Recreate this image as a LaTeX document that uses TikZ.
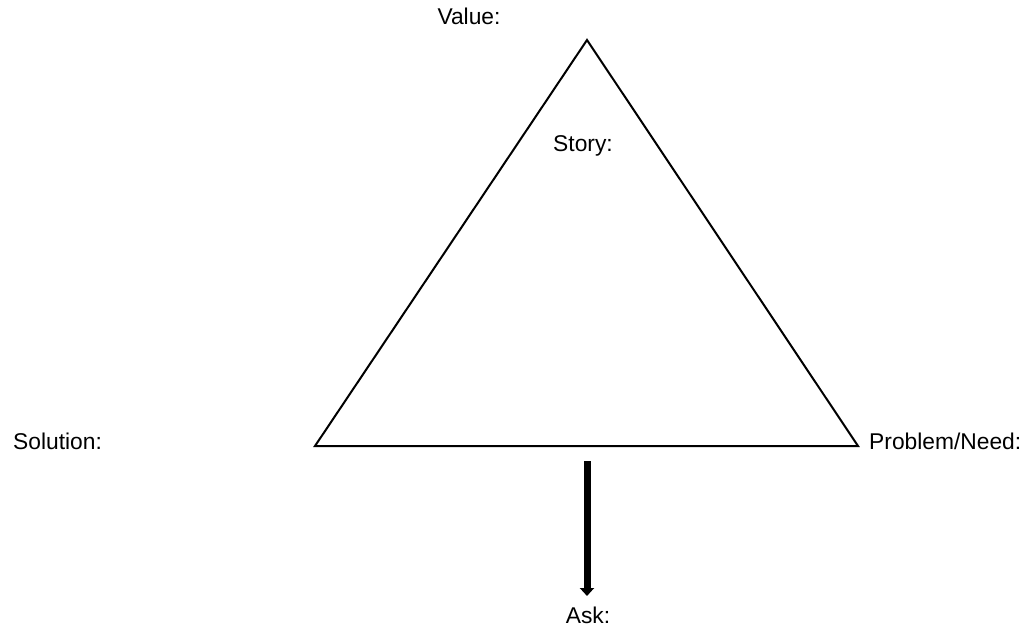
\documentclass[tikz,border=0pt]{standalone}
\usepackage{fontspec}
\setmainfont{Liberation Sans}
\usetikzlibrary{arrows.meta}

\begin{document}
\begin{tikzpicture}[x=1pt, y=-1pt,
  lbl/.style={font=\fontsize{22.8}{26}\selectfont, inner sep=0pt},
  edge/.style={line width=2pt, line join=miter},
  push/.style={-{Triangle[length=8pt,width=14pt]}, line width=7pt},
]
\useasboundingbox (0,0) rectangle (1026,635);

% triangle corners
\coordinate (top) at (587,40);
\coordinate (left) at (315,446);
\coordinate (right) at (858,446);
\draw[edge] (top) -- (left) -- (right) -- cycle;

% labels
\node[lbl] (value) at (469,16) {Value:};
\node[lbl] (story) at (583,146) {Story:};
\node[lbl, anchor=west] (solution) at (13,441) {Solution:};
\node[lbl, anchor=west] (problem) at (869,441) {Problem/Need:};
\node[lbl] (ask) at (588,615) {Ask:};

% arrow down to the ask
\coordinate (from) at (587,461);
\coordinate (to) at (587,596);
\draw[push] (from) -- (to);

\end{tikzpicture}
\end{document}
